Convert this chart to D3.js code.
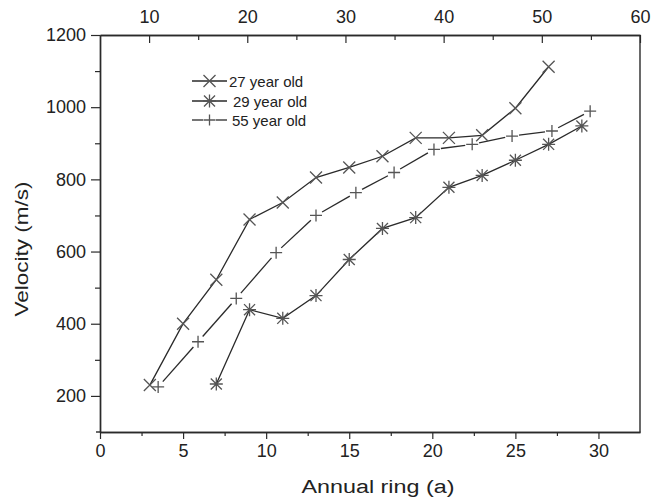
<!DOCTYPE html>
<html>
<head>
<meta charset="utf-8">
<script src="https://cdn.jsdelivr.net/npm/d3@7"></script>
<style>
  body { margin: 0; background: #fff; }
  text { font-family: "Liberation Sans", Arial, sans-serif; fill: #222; }
</style>
</head>
<body>
<div id="chart"></div>
<script>
// data
var ring27 = [3, 5, 7, 9, 11, 13, 15, 17, 19, 21, 23, 25, 27];
var vel27 = [230, 400, 522, 689, 736, 805, 833, 864, 915, 915, 922, 997, 1112];

var ring29 = [7, 9, 11, 13, 15, 17, 19, 21, 23, 25, 27, 29];
var vel29 = [233, 439, 415, 478, 578, 664, 694, 778, 811, 853, 897, 948];

var ring55 = [3.5, 5.9, 8.2, 10.6, 13, 15.4, 17.7, 20.1, 22.4, 24.8, 27.2, 29.5];
var vel55 = [225, 350, 470, 597, 700, 763, 819, 883, 897, 920, 934, 989];

var seriesNames = ["27 year old", "29 year old", "55 year old"];
var bottomTicks = [0, 5, 10, 15, 20, 25, 30];
var topTicks = [10, 20, 30, 40, 50, 60];
var yTicks = [200, 400, 600, 800, 1000, 1200];

var svgWidth = 663;
var svgHeight = 501;

var margin = {top: 35, right: 23, bottom: 69, left: 100};
var width = svgWidth - margin.left - margin.right;
var height = svgHeight - margin.top - margin.bottom;

var svg = d3.select("#chart")
  .append("svg")
  .attr("width", svgWidth)
  .attr("height", svgHeight);

var chartGroup = svg.append("g")
  .attr("transform", `translate(${margin.left}, ${margin.top})`);

var xScale = d3.scaleLinear().domain([0, 32.5]).range([0, width]);
var xTop = d3.scaleLinear().domain([5, 60]).range([0, width]);
var yScale = d3.scaleLinear().domain([100, 1200]).range([height, 0]);

var lineColor = "#2a2a2a";
var markColor = "#555";

// --- axes
function styleAxis(g) {
  g.selectAll("path.domain").attr("stroke", lineColor).attr("stroke-width", 1.4);
  g.selectAll("line").attr("stroke", lineColor).attr("stroke-width", 1.2);
  g.selectAll("text").attr("font-size", 18).attr("fill", "#222")
    .attr("font-family", "Liberation Sans, Arial, sans-serif");
}

// minor ticks
var xMinor = d3.range(2.5, 32.5, 5);
var topMinor = d3.range(15, 60, 10);
var yMinor = d3.range(300, 1200, 200);

chartGroup.append("g")
  .attr("transform", `translate(0, ${height})`)
  .call(d3.axisBottom(xScale).tickValues(xMinor).tickSize(4).tickFormat("").tickSizeOuter(0))
  .call(styleAxis);
chartGroup.append("g")
  .attr("transform", `translate(0, ${height})`)
  .call(d3.axisBottom(xScale).tickValues(bottomTicks).tickSize(7).tickPadding(5).tickSizeOuter(0))
  .call(styleAxis);

chartGroup.append("g")
  .call(d3.axisTop(xTop).tickValues(topMinor).tickSize(-5).tickFormat("").tickSizeOuter(0))
  .call(styleAxis);
var topAxis = chartGroup.append("g")
  .call(d3.axisTop(xTop).tickValues(topTicks).tickSize(-8).tickSizeOuter(0))
  .call(styleAxis);
topAxis.selectAll("text").attr("y", -12);

chartGroup.append("g")
  .call(d3.axisLeft(yScale).tickValues(yMinor).tickSize(5).tickFormat("").tickSizeOuter(0))
  .call(styleAxis);
chartGroup.append("g")
  .call(d3.axisLeft(yScale).tickValues(yTicks).tickFormat(d3.format("d"))
    .tickSize(9).tickPadding(5).tickSizeOuter(0))
  .call(styleAxis);

// right edge
chartGroup.append("line")
  .attr("x1", width).attr("x2", width)
  .attr("y1", 0).attr("y2", height)
  .attr("stroke", lineColor).attr("stroke-width", 1.4);
// little overhang of bottom axis to the left
chartGroup.append("line")
  .attr("x1", -4).attr("x2", 0)
  .attr("y1", height).attr("y2", height)
  .attr("stroke", lineColor).attr("stroke-width", 1.4);

// --- marker shapes
function markTimes(s) {
  return `M${-s},${-s}L${s},${s}M${-s},${s}L${s},${-s}`;
}
function markAsterisk(s) {
  return markTimes(s * 0.85) + `M0,${-s}L0,${s}M${-s},0L${s},0`;
}
function markPlus(s) {
  return `M${-s},0L${s},0M0,${-s}L0,${s}`;
}

function zip(xs, ys) {
  return xs.map((x, i) => ({x: x, y: ys[i]}));
}

var data27 = zip(ring27, vel27);
var data29 = zip(ring29, vel29);
var data55 = zip(ring55, vel55);

var line = d3.line()
  .x(d => xScale(d.x))
  .y(d => yScale(d.y));

chartGroup.append("path")
  .datum(data27)
  .attr("d", line)
  .attr("fill", "none")
  .attr("stroke", lineColor)
  .attr("stroke-width", 1.3);

chartGroup.append("path")
  .datum(data29)
  .attr("d", line)
  .attr("fill", "none")
  .attr("stroke", lineColor)
  .attr("stroke-width", 1.3);

// 55 year old line is broken around its markers
var gap = 7;
var segs = d3.pairs(data55).map(function(p) {
  var x1 = xScale(p[0].x), y1 = yScale(p[0].y);
  var x2 = xScale(p[1].x), y2 = yScale(p[1].y);
  var len = Math.hypot(x2 - x1, y2 - y1);
  var ux = (x2 - x1) / len, uy = (y2 - y1) / len;
  return {x1: x1 + ux * gap, y1: y1 + uy * gap, x2: x2 - ux * gap, y2: y2 - uy * gap};
});
chartGroup.selectAll(".seg55")
  .data(segs)
  .enter()
  .append("line")
  .attr("class", "seg55")
  .attr("x1", d => d.x1).attr("y1", d => d.y1)
  .attr("x2", d => d.x2).attr("y2", d => d.y2)
  .attr("stroke", lineColor)
  .attr("stroke-width", 1.3);

function drawMarks(data, shape, size, cls) {
  chartGroup.selectAll("." + cls)
    .data(data)
    .enter()
    .append("path")
    .attr("class", cls)
    .attr("transform", d => `translate(${xScale(d.x)}, ${yScale(d.y)})`)
    .attr("d", shape(size))
    .attr("fill", "none")
    .attr("stroke", markColor)
    .attr("stroke-width", 1.3);
}
drawMarks(data27, markTimes, 6, "m27");
drawMarks(data29, markAsterisk, 6.5, "m29");
drawMarks(data55, markPlus, 6, "m55");

// --- legend
var legendRows = [
  {name: seriesNames[0], y: 81, tx: 229, shape: markTimes, size: 6, gapped: false},
  {name: seriesNames[1], y: 101, tx: 233, shape: markAsterisk, size: 6.5, gapped: false},
  {name: seriesNames[2], y: 120, tx: 232, shape: markPlus, size: 5.5, gapped: true}
];
var legend = svg.append("g");
legendRows.forEach(function(r) {
  var lx1 = 192, lx2 = 227, cx = 209.5;
  if (r.gapped) {
    legend.append("line").attr("x1", lx1).attr("x2", cx - 6).attr("y1", r.y).attr("y2", r.y)
      .attr("stroke", lineColor).attr("stroke-width", 1.3);
    legend.append("line").attr("x1", cx + 6).attr("x2", lx2).attr("y1", r.y).attr("y2", r.y)
      .attr("stroke", lineColor).attr("stroke-width", 1.3);
  } else {
    legend.append("line").attr("x1", lx1).attr("x2", lx2).attr("y1", r.y).attr("y2", r.y)
      .attr("stroke", lineColor).attr("stroke-width", 1.3);
  }
  legend.append("path")
    .attr("transform", `translate(${cx}, ${r.y})`)
    .attr("d", r.shape(r.size))
    .attr("fill", "none")
    .attr("stroke", markColor)
    .attr("stroke-width", 1.3);
  legend.append("text")
    .attr("x", r.tx)
    .attr("y", r.y + 5.5)
    .attr("font-size", 15)
    .text(r.name);
});

// --- axis titles
svg.append("text")
  .attr("x", 378)
  .attr("y", 493)
  .attr("text-anchor", "middle")
  .attr("font-size", 18)
  .attr("textLength", 153)
  .attr("lengthAdjust", "spacingAndGlyphs")
  .text("Annual ring (a)");

svg.append("text")
  .attr("transform", "translate(28, 249) rotate(-90)")
  .attr("text-anchor", "middle")
  .attr("font-size", 18)
  .attr("textLength", 135)
  .attr("lengthAdjust", "spacingAndGlyphs")
  .text("Velocity (m/s)");
</script>
</body>
</html>
